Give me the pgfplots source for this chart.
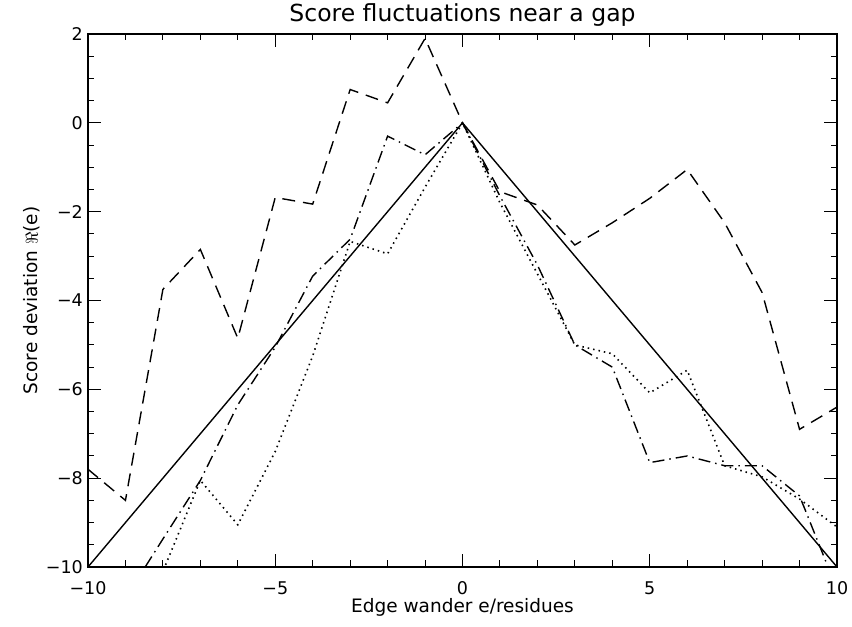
\documentclass[border=0pt]{standalone}
\usepackage{pgfplots}
\pgfplotsset{compat=1.18}
\usepackage{fontspec}
\setmainfont{DejaVu Sans}
\pgfplotstableread{
x y
-10 -7.8
-9 -8.5
-8 -3.75
-7 -2.85
-6 -4.85
-5 -1.68
-4 -1.83
-3 0.75
-2 0.45
-1 1.9
0 0
1 -1.55
2 -1.85
3 -2.75
4 -2.25
5 -1.7
6 -1.05
7 -2.25
8 -3.82
9 -6.9
10 -6.4
}\dashedtab
\pgfplotstableread{
x y
-10 -12.3
-9 -10.7
-8 -9.37
-7 -8.05
-6 -6.35
-5 -5.05
-4 -3.45
-3 -2.62
-2 -0.3
-1 -0.72
0 0
1 -1.65
2 -3.2
3 -5.0
4 -5.5
5 -7.65
6 -7.5
7 -7.72
8 -7.72
9 -8.4
10 -10.5
}\dashdottab
\pgfplotstableread{
x y
-10 -12.8
-9 -11.4
-8 -10.1
-7 -8.05
-6 -9.05
-5 -7.4
-4 -5.25
-3 -2.67
-2 -2.95
-1 -1.45
0 0
1 -1.8
2 -3.4
3 -5.0
4 -5.2
5 -6.08
6 -5.57
7 -7.72
8 -7.97
9 -8.47
10 -9.1
}\dottedtab
\begin{document}
\begin{tikzpicture}
\begin{axis}[
  scale only axis, width=749bp, height=533bp,
  xmin=-10, xmax=10, ymin=-10, ymax=2,
  xtick={-10,-5,0,5,10},
  xticklabels={−10,−5,0,5,10},
  ytick={-10,-8,-6,-4,-2,0,2},
  yticklabels={−10,−8,−6,−4,−2,0,2},
  minor x tick num=4, minor y tick num=3,
  tick align=inside,
  major tick length=13bp, minor tick length=6.5bp,
  every tick/.style={black, line width=1pt},
  axis line style={line width=1.3pt},
  tick label style={font=\fontsize{17.5bp}{20bp}\selectfont},
  xticklabel style={anchor=center, yshift=-21bp},
  yticklabel style={anchor=east, inner sep=0pt, xshift=-5bp},
  title={Score fluctuations near a gap},
  title style={at={(axis description cs:0.5,1.0131)}, anchor=base, inner sep=0pt, font=\fontsize{23.5bp}{26bp}\selectfont},
  xlabel={Edge wander e/residues},
  xlabel style={at={(axis description cs:0.5,-0.075)}, anchor=center, font=\fontsize{18.5bp}{20bp}\selectfont},
  ylabel={Score deviation $\Re$(e)},
  ylabel style={at={(axis description cs:-0.0748,0.5)}, anchor=center, font=\fontsize{18.5bp}{20bp}\selectfont},
]
\addplot[black, line width=1.4pt] coordinates {(-10,-10) (0,0) (10,-10)};
\addplot[black, line width=1.4pt, dash pattern=on 13bp off 8bp] table {\dashedtab};
\addplot[black, line width=1.4pt, dash pattern=on 12bp off 5bp on 1.5bp off 5bp] table {\dashdottab};
\addplot[black, line width=1.6pt, dash pattern=on 1.5bp off 4bp] table {\dottedtab};
\end{axis}
\pgfresetboundingbox
\path[use as bounding box] ([shift={(-88bp,-60bp)}]current axis.south west) rectangle ([shift={(15bp,34bp)}]current axis.north east);
\end{tikzpicture}
\end{document}
